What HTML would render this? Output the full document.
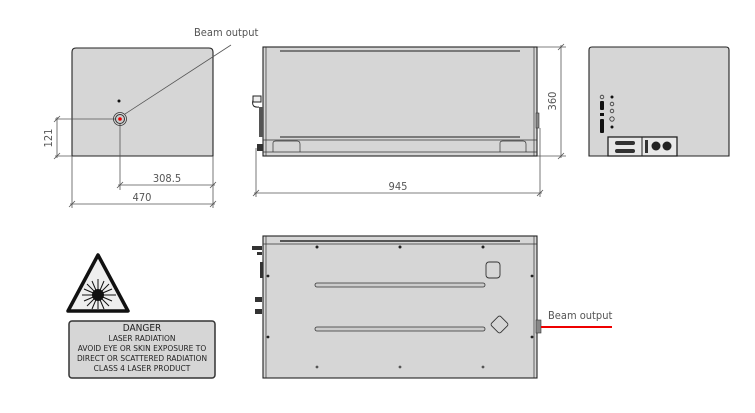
<!DOCTYPE html>
<html><head><meta charset="utf-8"><style>
html,body{margin:0;padding:0;background:#fff;}
svg{display:block;font-family:"DejaVu Sans Condensed","Liberation Sans",sans-serif;}
</style></head><body>
<svg width="755" height="413" viewBox="0 0 755 413" xmlns="http://www.w3.org/2000/svg">
<!-- front view -->
<path d="M76 48 H209 Q213 48 213 52 V156 H72 V52 Q72 48 76 48Z" fill="#d6d6d6" stroke="#222" stroke-width="1.1"/>
<g fill="none" stroke="#555" stroke-width="0.8">
<!-- front dims -->
<line x1="55" y1="119" x2="118" y2="119"/><line x1="55" y1="156" x2="72" y2="156"/>
<line x1="57" y1="117" x2="57" y2="158"/>
<line x1="120" y1="122" x2="120" y2="190"/>
<line x1="118" y1="185" x2="215" y2="185"/>
<line x1="72" y1="156" x2="72" y2="208"/><line x1="213" y1="156" x2="213" y2="208"/>
<line x1="70" y1="204" x2="215" y2="204"/>
<line x1="125" y1="114" x2="231" y2="45"/>
<!-- side dims -->
<line x1="537" y1="47" x2="566" y2="47"/><line x1="537" y1="156" x2="566" y2="156"/>
<line x1="561" y1="45" x2="561" y2="158"/>
<line x1="256" y1="148" x2="256" y2="197"/><line x1="540" y1="128" x2="540" y2="197"/>
<line x1="254" y1="193" x2="542" y2="193"/>
</g>
<g stroke="#555" stroke-width="0.8">
<line x1="54" y1="122" x2="60" y2="116"/><line x1="54" y1="159" x2="60" y2="153"/>
<line x1="117" y1="188" x2="123" y2="182"/><line x1="210" y1="188" x2="216" y2="182"/>
<line x1="69" y1="207" x2="75" y2="201"/><line x1="210" y1="207" x2="216" y2="201"/>
<line x1="558" y1="50" x2="564" y2="44"/><line x1="558" y1="159" x2="564" y2="153"/>
<line x1="253" y1="196" x2="259" y2="190"/><line x1="537" y1="196" x2="543" y2="190"/>
</g>
<g fill="#555" font-size="11">
<text x="167" y="182" text-anchor="middle">308.5</text>
<text x="142" y="201" text-anchor="middle">470</text>
<text x="398" y="190" text-anchor="middle">945</text>
<text transform="translate(52,138) rotate(-90)" text-anchor="middle">121</text>
<text transform="translate(556,101) rotate(-90)" text-anchor="middle">360</text>
<text x="194" y="36">Beam output</text>
<text x="548" y="319">Beam output</text>
</g>
<circle cx="119" cy="101" r="1.5" fill="#111"/>
<circle cx="120" cy="119" r="6.5" fill="none" stroke="#333" stroke-width="0.8"/>
<circle cx="120" cy="119" r="4.5" fill="#ccc" stroke="#333" stroke-width="1"/>
<circle cx="120" cy="119" r="1.8" fill="#e00"/>
<!-- side view -->
<rect x="263" y="47" width="274" height="109" fill="#d6d6d6" stroke="#222" stroke-width="1.1"/>
<line x1="266" y1="47" x2="266" y2="156" stroke="#333" stroke-width="0.7"/>
<line x1="534" y1="47" x2="534" y2="156" stroke="#333" stroke-width="0.7"/>
<line x1="280" y1="51" x2="520" y2="51" stroke="#444" stroke-width="1.2"/>
<line x1="280" y1="137" x2="520" y2="137" stroke="#444" stroke-width="1.2"/>
<line x1="263" y1="140" x2="537" y2="140" stroke="#333" stroke-width="0.8"/>
<line x1="263" y1="152" x2="537" y2="152" stroke="#333" stroke-width="0.8"/>
<path d="M273 152 V143 Q273 141 276 141 H297 Q300 141 300 144 V152" fill="none" stroke="#333" stroke-width="0.7"/>
<path d="M500 152 V143 Q500 141 503 141 H523 Q526 141 526 144 V152" fill="none" stroke="#333" stroke-width="0.7"/>
<rect x="253" y="96" width="8" height="6" fill="#eee" stroke="#222" stroke-width="1"/>
<path d="M253 100 Q251 108 259 107" fill="none" stroke="#222" stroke-width="1"/>
<rect x="259" y="107" width="4" height="30" fill="#555"/>
<rect x="257" y="144" width="6" height="7" fill="#333"/>
<rect x="536" y="113" width="3" height="15" fill="#888" stroke="#333" stroke-width="0.6"/>
<!-- rear view -->
<path d="M592 47 H726 Q729 47 729 50 V156 H589 V50 Q589 47 592 47Z" fill="#d6d6d6" stroke="#222" stroke-width="1.1"/>
<g fill="none" stroke="#333" stroke-width="0.8">
<circle cx="602" cy="97" r="1.8"/><circle cx="612" cy="104" r="1.8"/><circle cx="612" cy="111" r="1.8"/><circle cx="612" cy="119" r="2.2"/>
</g>
<g fill="#111"><circle cx="612" cy="97" r="1.5"/><circle cx="612" cy="127" r="1.5"/><rect x="600" y="113" width="4" height="3"/>
<rect x="600" y="101" width="4" height="9" rx="1"/><rect x="600" y="119" width="4" height="14" rx="1"/></g>
<rect x="608" y="137" width="69" height="19" fill="#e8e8e8" stroke="#222" stroke-width="1.3"/>
<line x1="642" y1="137" x2="642" y2="156" stroke="#222"/>
<rect x="615" y="141" width="20" height="4" rx="2" fill="#333"/><rect x="615" y="149" width="20" height="4" rx="2" fill="#333"/>
<rect x="645" y="140" width="3" height="13" fill="#333"/>
<circle cx="656" cy="146" r="4.5" fill="#222"/><circle cx="667" cy="146" r="4.5" fill="#222"/>
<!-- bottom view -->
<rect x="263" y="236" width="274" height="142" fill="#d6d6d6" stroke="#222" stroke-width="1.1"/>
<line x1="266" y1="236" x2="266" y2="378" stroke="#333" stroke-width="0.7"/>
<line x1="534" y1="236" x2="534" y2="378" stroke="#333" stroke-width="0.7"/>
<line x1="263" y1="244" x2="537" y2="244" stroke="#333" stroke-width="0.8"/>
<line x1="280" y1="241" x2="520" y2="241" stroke="#555" stroke-width="2"/>
<g fill="#222"><circle cx="317" cy="247" r="1.5"/><circle cx="400" cy="247" r="1.5"/><circle cx="483" cy="247" r="1.5"/>
<circle cx="268" cy="276" r="1.4"/><circle cx="268" cy="337" r="1.4"/><circle cx="532" cy="276" r="1.4"/><circle cx="532" cy="337" r="1.4"/></g>
<g fill="#555"><circle cx="317" cy="367" r="1.4"/><circle cx="400" cy="367" r="1.4"/><circle cx="483" cy="367" r="1.4"/></g>
<rect x="315" y="283" width="170" height="4" rx="2" fill="#ccc" stroke="#333" stroke-width="0.8"/>
<rect x="315" y="327" width="170" height="4" rx="2" fill="#ccc" stroke="#333" stroke-width="0.8"/>
<rect x="486" y="262" width="14" height="16" rx="3" fill="none" stroke="#333" stroke-width="0.9"/>
<rect x="493" y="318" width="13" height="13" rx="2" transform="rotate(45 499.5 324.5)" fill="none" stroke="#333" stroke-width="0.9"/>
<g fill="#333"><rect x="252" y="246" width="10" height="4"/><rect x="257" y="252" width="5" height="3"/><rect x="260" y="262" width="3" height="16"/>
<rect x="255" y="297" width="7" height="5"/><rect x="255" y="309" width="7" height="5"/></g>
<rect x="536" y="320" width="5" height="13" fill="#888" stroke="#333" stroke-width="0.6"/>
<line x1="541" y1="327" x2="612" y2="327" stroke="#e00" stroke-width="2"/>
<!-- warning -->
<path d="M98 255 L128 311 H68 Z" fill="#eee" stroke="#111" stroke-width="3.5" stroke-linejoin="round"/>
<g stroke="#111" stroke-width="1">
<line x1="82" y1="295" x2="116" y2="295"/><line x1="98" y1="279" x2="98" y2="309"/>
<line x1="87" y1="284" x2="109" y2="306"/><line x1="109" y1="284" x2="87" y2="306"/>
<line x1="84" y1="289" x2="112" y2="301"/><line x1="84" y1="301" x2="112" y2="289"/>
<line x1="92" y1="281" x2="104" y2="309"/><line x1="104" y1="281" x2="92" y2="309"/>
</g>
<circle cx="98" cy="295" r="6" fill="#111"/>
<rect x="69" y="321" width="146" height="57" rx="3" fill="#d6d6d6" stroke="#333" stroke-width="1.5"/>
<g fill="#222" text-anchor="middle" font-size="8.3">
<text x="142" y="331" font-size="10">DANGER</text>
<text x="142" y="341">LASER RADIATION</text>
<text x="142" y="351">AVOID EYE OR SKIN EXPOSURE TO</text>
<text x="142" y="361">DIRECT OR SCATTERED RADIATION</text>
<text x="142" y="371">CLASS 4 LASER PRODUCT</text>
</g>
</svg>
</body></html>
